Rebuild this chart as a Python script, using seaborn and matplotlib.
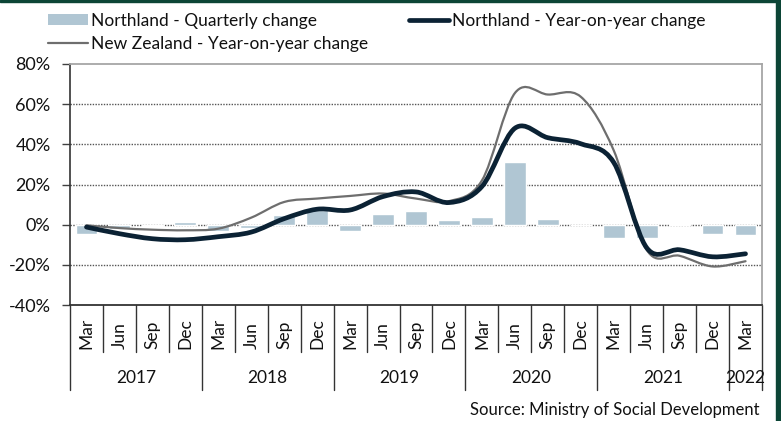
import numpy as np
import pandas as pd
import matplotlib
matplotlib.use("Agg")
import matplotlib.pyplot as plt
from matplotlib.path import Path
from matplotlib.patches import PathPatch, Patch, Rectangle
from matplotlib.lines import Line2D
import seaborn as sns

# ---------------- data ----------------
months = ["Mar", "Jun", "Sep", "Dec"] * 5 + ["Mar"]
years = ["2017", "2018", "2019", "2020", "2021", "2022"]
year_counts = [4, 4, 4, 4, 4, 1]
quarterly_change = [-4.8, -2.0, -0.5, 1.5, -3.0, -1.5, 4.8, 7.2, -3.0, 5.3, 6.6,
                    2.3, 3.7, 31.2, 3.0, -0.3, -6.6, -6.6, 0.5, -4.5, -5.0]
northland_yoy = [-1.2, -4.5, -7.0, -7.5, -6.0, -3.7, 3.0, 7.7, 7.3, 14.0, 16.3,
                 11.0, 19.0, 48.0, 43.3, 40.3, 31.0, -11.5, -12.5, -16.0, -14.5]
nz_yoy = [-0.3, -1.7, -2.5, -2.8, -2.0, 3.5, 11.3, 13.0, 14.3, 15.5, 13.0,
          11.7, 22.0, 65.5, 64.8, 63.7, 37.0, -12.5, -15.5, -20.8, -18.2]
yticks = [-40, -20, 0, 20, 40, 60, 80]

label_q = "Northland - Quarterly change"
label_n = "Northland - Year-on-year change"
label_z = "New Zealand - Year-on-year change"
source = "Source: Ministry of Social Development"

# ---------------- style ----------------
sns.set_style("white")
plt.rcParams["font.family"] = ["Lato", "DejaVu Sans"]
FS = 12.5

BAR_C = "#b0c6d3"
NL_C = "#0b2234"
NZ_C = "#6e6e6e"
BORDER_C = "#0c4536"
TXT_C = "#111111"

fig = plt.figure(figsize=(7.81, 4.21), dpi=100)
ax = fig.add_axes([70 / 781, 1 - 305 / 421, (762 - 70) / 781, (305 - 64) / 421])

keys = [f"{m} {i}" for i, m in enumerate(months)]
df = pd.DataFrame({"key": keys, "q": quarterly_change})
sns.barplot(data=df, x="key", y="q", color=BAR_C, saturation=1, width=0.66,
            ax=ax, zorder=2)

n = len(keys)
xs = np.arange(n)


def smooth_path(x, y):
    pts = np.column_stack([x, y]).astype(float)
    verts = [pts[0]]
    codes = [Path.MOVETO]
    for i in range(len(pts) - 1):
        p0 = pts[i - 1] if i > 0 else pts[i]
        p1 = pts[i]
        p2 = pts[i + 1]
        p3 = pts[i + 2] if i + 2 < len(pts) else pts[i + 1]
        c1 = p1 + (p2 - p0) / 6.0
        c2 = p2 - (p3 - p1) / 6.0
        verts += [c1, c2, p2]
        codes += [Path.CURVE4] * 3
    return Path(verts, codes)


ax.add_patch(PathPatch(smooth_path(xs, nz_yoy), fill=False, edgecolor=NZ_C,
                       lw=1.6, zorder=3, capstyle="round", joinstyle="round"))
ax.add_patch(PathPatch(smooth_path(xs, northland_yoy), fill=False, edgecolor=NL_C,
                       lw=3.4, zorder=4, capstyle="round", joinstyle="round"))

ax.set_xlim(-0.5, n - 0.5)
ax.set_ylim(-40, 80)
ax.set_yticks(yticks)
ax.set_yticklabels([f"{v}%" for v in yticks], fontsize=13)
ax.set_xticks([])
ax.set_xlabel("")
ax.set_ylabel("")
ax.tick_params(axis="y", which="both", left=True, length=6, width=1,
               color="#404040", pad=8, labelcolor=TXT_C)

for v in yticks[1:-1]:
    ax.axhline(v, color="#555555", lw=1.0, ls=(0, (1, 1)), zorder=1)

for side in ["top", "right"]:
    ax.spines[side].set_visible(True)
    ax.spines[side].set_color("#a6a6a6")
    ax.spines[side].set_linewidth(1.3)
ax.spines["left"].set_color("#333333")
ax.spines["left"].set_linewidth(1.2)
ax.spines["bottom"].set_color("#333333")
ax.spines["bottom"].set_linewidth(1.3)

# ---------------- multi-level category axis ----------------
trans = ax.get_xaxis_transform()
ax_h = 305 - 64
def ay(py):
    return -(py - 305) / ax_h

year_starts = np.concatenate([[0], np.cumsum(year_counts)])
year_bounds = set(int(b) for b in year_starts)
for b in range(n + 1):
    xb = b - 0.5
    bottom = ay(390) if b in year_bounds else ay(352)
    ax.add_line(Line2D([xb, xb], [0, bottom], transform=trans, color="#333333",
                       lw=1.0, clip_on=False))

for i, m in enumerate(months):
    ax.text(i, ay(349), m, transform=trans, rotation=90, rotation_mode="anchor",
            ha="left", va="center", fontsize=FS, color=TXT_C)

for j, yl in enumerate(years):
    cx = (year_starts[j] + year_starts[j + 1] - 1) / 2.0
    ax.text(cx, ay(378), yl, transform=trans, ha="center", va="center",
            fontsize=FS, color=TXT_C)

# ---------------- legend ----------------
h_q = Patch(facecolor=BAR_C, edgecolor="none")
h_n = Line2D([], [], color=NL_C, lw=3.4)
h_z = Line2D([], [], color=NZ_C, lw=1.6)
leg = fig.legend([h_q, h_z, h_n], [label_q, label_z, label_n], ncol=2,
                 loc="upper left", bbox_to_anchor=(48 / 781, 1 - 13 / 421),
                 frameon=False, fontsize=FS, handlelength=2.3, handleheight=0.6,
                 handletextpad=0.15, labelspacing=0.42, columnspacing=2.4,
                 borderpad=0.0, borderaxespad=0)
for t in leg.get_texts():
    t.set_color(TXT_C)

fig.text(760 / 781, 1 - 410 / 421, source, ha="right", va="center",
         fontsize=12, color=TXT_C)

# ---------------- frame border ----------------
fig.patches.append(Rectangle((0, 1 - 2 / 421), 1, 2 / 421, transform=fig.transFigure,
                             color=BORDER_C, zorder=10))
fig.patches.append(Rectangle((776 / 781, 0), 5 / 781, 1, transform=fig.transFigure,
                             color=BORDER_C, zorder=10))

fig.savefig("out.png", dpi=100)
